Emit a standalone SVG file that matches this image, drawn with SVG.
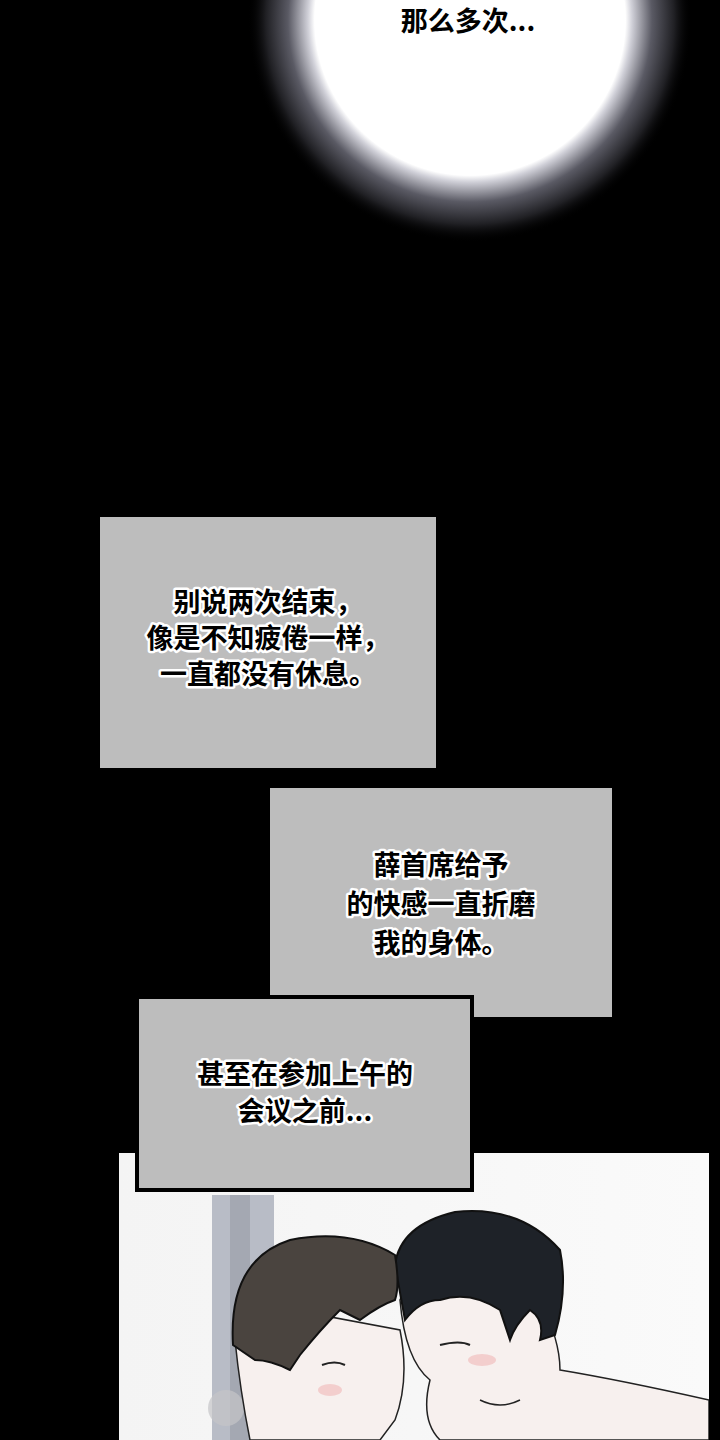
<svg xmlns="http://www.w3.org/2000/svg" width="720" height="1440" viewBox="0 0 720 1440">
<defs>
<radialGradient id="glow" cx="0.5" cy="0.5" r="0.5">
<stop offset="0.70" stop-color="#ffffff"/>
<stop offset="0.73" stop-color="#d0d0d8"/>
<stop offset="0.82" stop-color="#5a5a64"/>
<stop offset="0.92" stop-color="#202024"/>
<stop offset="1" stop-color="#000000" stop-opacity="0"/>
</radialGradient>
<linearGradient id="bg" x1="0" y1="0" x2="1" y2="0">
<stop offset="0" stop-color="#f4f4f4"/><stop offset="1" stop-color="#fafafa"/>
</linearGradient>
<clipPath id="pc"><rect x="119" y="1153" width="590" height="287"/></clipPath>
</defs>
<style>
.t{font-family:"Noto Sans CJK SC","Noto Sans",sans-serif;font-size:27px;font-weight:700;fill:#000;stroke:#fff;stroke-width:5px;paint-order:stroke;stroke-linejoin:round;text-anchor:middle}
.box{fill:#bdbdbd}
.hair{stroke:#111;stroke-width:2}
.skin{fill:#f7f0ee;stroke:#222;stroke-width:1.5}
</style>
<rect width="720" height="1440" fill="#000"/>
<g id="top-glow">
<circle cx="470" cy="20" r="222" fill="url(#glow)"/>
<text class="t" x="468" y="31">那么多次...</text>
</g>
<g id="box1">
<rect class="box" x="100" y="517" width="336" height="251"/>
<text class="t" x="268" y="612">别说两次结束，</text>
<text class="t" x="268" y="648">像是不知疲倦一样，</text>
<text class="t" x="268" y="684">一直都没有休息。</text>
</g>
<g id="box2">
<rect class="box" x="270" y="788" width="342" height="229"/>
<text class="t" x="441" y="875">薛首席给予</text>
<text class="t" x="441" y="914">的快感一直折磨</text>
<text class="t" x="441" y="953">我的身体。</text>
</g>
<g id="panel" clip-path="url(#pc)">
<rect x="119" y="1153" width="590" height="287" fill="url(#bg)"/>
<rect x="212" y="1195" width="62" height="245" fill="#b8bcc6"/>
<rect x="230" y="1195" width="20" height="245" fill="#a4a8b2"/>
<circle cx="226" cy="1408" r="18" fill="#c4c4c8" opacity="0.7"/>
<path class="skin" d="M400 1300 Q410 1270 450 1260 L540 1300 Q560 1340 560 1370 Q620 1380 709 1400 L709 1440 L440 1440 Q420 1420 430 1380 Q405 1360 400 1300Z"/>
<path class="hair" fill="#1e2228" d="M395 1265 Q400 1225 455 1212 Q520 1205 560 1250 Q568 1290 555 1335 L540 1340 Q545 1320 530 1310 Q515 1325 510 1340 L500 1310 Q470 1290 440 1300 Q420 1300 405 1320 Z"/>
<path d="M440 1345 Q460 1340 470 1345" stroke="#222" stroke-width="2" fill="none"/>
<ellipse cx="482" cy="1360" rx="14" ry="6" fill="#f0b8b8" opacity="0.6"/>
<path class="skin" d="M240 1300 L400 1330 Q410 1380 395 1420 L380 1440 L250 1440 Q240 1390 235 1340Z"/>
<path class="hair" fill="#4a443f" d="M233 1345 Q228 1260 290 1240 Q350 1228 395 1255 Q400 1285 395 1300 Q380 1305 360 1320 L340 1310 Q320 1330 300 1355 L290 1370 Q270 1360 255 1360 Z"/>
<path d="M322 1365 Q335 1360 345 1365" stroke="#222" stroke-width="2" fill="none"/>
<ellipse cx="330" cy="1390" rx="12" ry="6" fill="#f0b8b8" opacity="0.6"/>
<path d="M480 1400 Q500 1410 520 1400" stroke="#222" stroke-width="1.5" fill="none"/>
</g>
<g id="box3">
<rect class="box" x="137" y="997" width="335" height="193" stroke="#000" stroke-width="4"/>
<text class="t" x="305" y="1084">甚至在参加上午的</text>
<text class="t" x="305" y="1121">会议之前...</text>
</g>
</svg>
